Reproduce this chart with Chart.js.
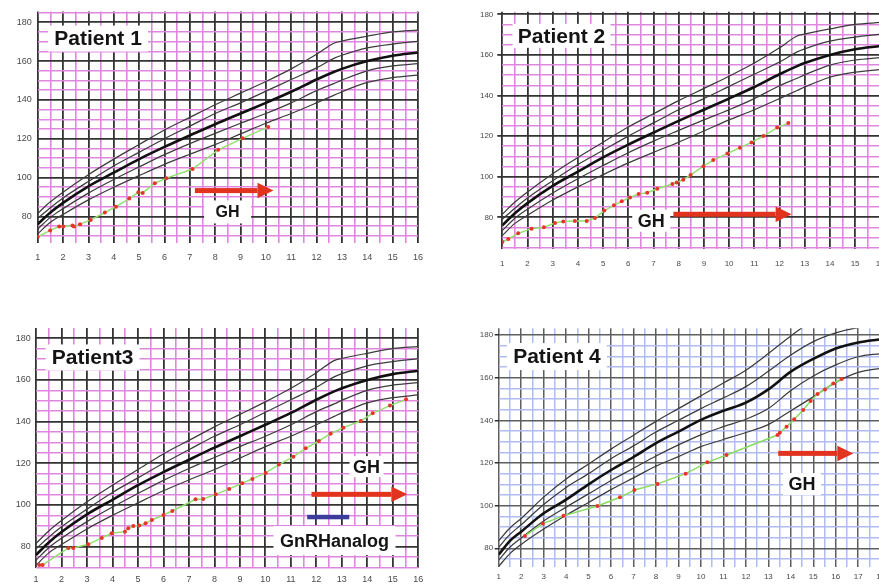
<!DOCTYPE html>
<html><head><meta charset="utf-8">
<script src="https://cdn.jsdelivr.net/npm/chart.js@4.4.1/dist/chart.umd.min.js"></script>
<style>
html,body{margin:0;padding:0;background:#fff;width:879px;height:588px;overflow:hidden;position:relative}
canvas{position:absolute}
</style></head><body>
<canvas id="c1"></canvas><canvas id="c2"></canvas><canvas id="c3"></canvas><canvas id="c4"></canvas>
<script>
// ---- reference growth curves (girls chart, panels 1-3) ----
const girlAges = [1, 1.5, 2, 3, 4, 5, 6, 7, 8, 9, 10, 11, 12, 12.7, 13, 14, 15, 16];
const girlP97 = [81.5, 87.5, 92.5, 101.5, 109.5, 117, 124.5, 131, 137.5, 143.5, 149.5, 156, 163.5, 169.3, 170.3, 172.8, 175, 176];
const girlP90 = [79, 84.5, 89.5, 98, 106, 113, 120, 126.5, 133, 138.5, 144.5, 150.5, 156.5, 161.5, 163, 166.8, 168.8, 170.2];
const girlP50 = [76, 82, 87, 95.5, 102.5, 109.5, 115.8, 121.7, 127.5, 133, 138.5, 144.2, 150.5, 154.5, 156, 160, 162.8, 164.4];
const girlP10 = [73.5, 79.5, 84, 92, 99, 105.5, 111.8, 117.5, 122.8, 128, 133, 138.5, 144.8, 148.5, 150.2, 155, 157.5, 158.7];
const girlP3  = [71, 77, 81, 88.5, 95, 101, 106.8, 112, 117, 122.5, 128, 133, 138.5, 142.5, 144.2, 149, 151.5, 152.8];

// ---- reference growth curves (boys chart, panel 4) ----
const boyAges = [1, 1.5, 2, 3, 4, 5, 6, 7, 8, 9, 10, 11, 12, 13, 14, 15, 16, 17, 18];
const boyP97 = [83.5, 89.5, 94, 104, 112.5, 119.5, 126.5, 133, 139.5, 145.5, 151.5, 157.5, 163.5, 171.3, 179.5, 187, 192, 195, 196];
const boyP90 = [80.5, 86.5, 91, 100.5, 108.5, 115, 122, 128, 134.5, 140, 145.5, 150.5, 155.8, 163, 170.6, 176.9, 181, 183.5, 184.5];
const boyP50 = [77, 83.5, 87.8, 96.4, 102.8, 110, 116.7, 122.8, 129.3, 134.7, 140.2, 144.5, 148.3, 154.5, 162.8, 168.8, 173.7, 176.5, 178];
const boyP10 = [74.5, 80.5, 84.8, 92.8, 99.3, 105.5, 111.8, 117.5, 123.3, 128.5, 133.2, 137, 140.5, 145.5, 154, 160.8, 166, 169.8, 171.3];
const boyP3  = [71.5, 77.5, 81.8, 89, 95.5, 101.5, 107.5, 113, 118.5, 123, 127.7, 131, 134.3, 138, 144.5, 151, 157.8, 162.5, 164.4];

// ---- patient measurements (age in years, height in cm) ----
const p1Age = [1.0, 1.49, 1.85, 2.01, 2.37, 2.43, 2.67, 3.09, 3.65, 4.09, 4.61, 4.97, 5.14, 5.62, 6.08, 7.11, 8.12, 9.08, 10.09];
const p1Height = [69.4, 72.8, 74.8, 74.8, 75.3, 74.8, 76.0, 78.2, 82.0, 85.0, 89.2, 92.4, 92.1, 97.1, 99.7, 104.4, 114.3, 120.2, 126.1];

const p2Age = [1.0, 1.24, 1.63, 2.16, 2.65, 3.09, 3.42, 3.88, 4.35, 4.68, 5.05, 5.43, 5.74, 6.07, 6.41, 6.75, 7.15, 7.75, 7.92, 8.18, 8.47, 8.98, 9.37, 9.93, 10.43, 10.89, 11.36, 11.91, 12.35];
const p2Height = [67.8, 69.3, 72.1, 74.4, 75.1, 77.2, 77.9, 78.2, 78.2, 79.7, 83.3, 85.9, 87.9, 89.8, 91.5, 92.1, 94.1, 96.4, 97.2, 98.5, 100.8, 105.2, 108.2, 111.4, 114.3, 116.9, 120.0, 124.2, 126.4];

const p3Age = [1.13, 1.26, 2.27, 2.46, 3.05, 3.58, 3.97, 4.49, 4.62, 4.82, 5.05, 5.30, 5.55, 6.0, 6.35, 7.26, 7.56, 8.05, 8.58, 9.09, 9.49, 10.01, 10.53, 11.1, 11.58, 12.1, 12.56, 13.06, 13.74, 14.21, 14.89, 15.52];
const p3Height = [71.2, 71.2, 79.4, 79.4, 81.1, 84.2, 86.4, 87.2, 88.8, 89.9, 90.1, 91.2, 92.8, 95.2, 97.1, 102.7, 102.9, 105.1, 107.7, 110.4, 112.5, 115.4, 119.4, 123.2, 127.2, 130.7, 134.2, 137.1, 140.3, 144.0, 147.7, 150.7];

const p4Age = [2.17, 2.96, 3.88, 5.39, 6.40, 7.04, 8.07, 9.32, 10.28, 11.14, 13.41, 13.51, 13.81, 14.15, 14.55, 14.88, 15.19, 15.52, 15.89, 16.26];
const p4Height = [85.8, 91.6, 95.2, 99.8, 103.9, 107.3, 110.2, 115.0, 120.3, 123.75, 133.1, 134.2, 137.0, 140.5, 144.8, 149.1, 152.3, 154.5, 157.3, 159.4];

// ---- tick labels ----
const xLabels16 = [1, 2, 3, 4, 5, 6, 7, 8, 9, 10, 11, 12, 13, 14, 15, 16];
const xLabels18 = [1, 2, 3, 4, 5, 6, 7, 8, 9, 10, 11, 12, 13, 14, 15, 16, 17, 18];
const yLabels = [80, 100, 120, 140, 160, 180];

// ---- treatment markers (age from, age to, height level) ----
const ghArrow1 = [7.2, 10.3, 93.3];
const ghArrow2 = [7.79, 12.48, 81.5];
const ghArrow3 = [11.81, 15.57, 105.1];
const gnrhBar3 = [11.64, 13.29, 94.2];
const ghArrow4 = [13.44, 16.78, 124.5];

const FONT = "'Liberation Sans', Arial, Helvetica, sans-serif";

function pts(xs, ys) { return xs.map((x, i) => ({ x: x, y: ys[i] })); }

function curveSets(ages, arr) {
  return arr.map((ys, i) => ({
    data: pts(ages, ys),
    borderColor: i === 2 ? '#111111' : '#3c3c3c',
    borderWidth: i === 2 ? 2.6 : 1.25,
    pointRadius: 0,
    fill: false,
    cubicInterpolationMode: 'monotone'
  }));
}

const notePlugin = {
  id: 'notes',
  afterDatasetsDraw(chart) {
    const ctx = chart.ctx, xs = chart.scales.x, ys = chart.scales.y;
    const n = chart.options.notes || {};
    ctx.save();
    (n.bars || []).forEach(b => {
      const a = xs.getPixelForValue(b.r[0]), c = xs.getPixelForValue(b.r[1]), y = ys.getPixelForValue(b.r[2]);
      ctx.fillStyle = b.color;
      ctx.fillRect(a, y - b.t / 2, c - a, b.t);
    });
    (n.arrows || []).forEach(ar => {
      const a = xs.getPixelForValue(ar.r[0]), c = xs.getPixelForValue(ar.r[1]), y = ys.getPixelForValue(ar.r[2]);
      const hl = 16, hh = 15.5, t = 5;
      ctx.fillStyle = '#e2331f';
      ctx.fillRect(a, y - t / 2, c - hl - a, t);
      ctx.beginPath();
      ctx.moveTo(c - hl, y - hh / 2);
      ctx.lineTo(c, y);
      ctx.lineTo(c - hl, y + hh / 2);
      ctx.closePath();
      ctx.fill();
    });
    (n.boxes || []).forEach(bx => {
      const cx = xs.getPixelForValue(bx.x), cy = ys.getPixelForValue(bx.y);
      ctx.fillStyle = '#ffffff';
      ctx.fillRect(cx - bx.w / 2, cy - bx.h / 2, bx.w, bx.h);
      ctx.fillStyle = '#141414';
      ctx.font = 'bold ' + bx.size + 'px ' + FONT;
      ctx.textAlign = 'center';
      ctx.textBaseline = 'middle';
      ctx.fillText(bx.text, cx, cy + 1);
    });
    ctx.restore();
  }
};

function range(a, b, s) { const r = []; for (let v = a; v <= b + 1e-9; v += s) r.push(Math.round(v * 100) / 100); return r; }

function makePanel(id, cfg) {
  const cv = document.getElementById(id);
  const [cx, cy, cw, ch] = cfg.canvas;
  cv.style.left = cx + 'px'; cv.style.top = cy + 'px';
  cv.width = cw; cv.height = ch;
  cv.style.width = cw + 'px'; cv.style.height = ch + 'px';
  const [L, T, R, B] = cfg.area;
  const major = cfg.major, minor = cfg.minor, lw = cfg.lw;
  const xGrid = range(cfg.x[0], cfg.x[1], 0.5);
  const yGrid = range(Math.ceil(cfg.y[0] / 5) * 5, Math.floor(cfg.y[1] / 5) * 5, 5);
  const datasets = [{
    data: pts(cfg.pAge, cfg.pHeight),
    borderColor: cfg.green,
    borderWidth: 1.5,
    pointRadius: 2,
    pointBackgroundColor: '#e8342a',
    pointBorderWidth: 0,
    fill: false,
    tension: 0
  }].concat(curveSets(cfg.ages, cfg.curves));
  const yW = L - cx, xH = cy + ch - B;
  new Chart(cv, {
    type: 'line',
    data: { datasets: datasets },
    options: {
      responsive: false, animation: false, events: [],
      layout: { padding: { left: 0, top: T - cy, right: cx + cw - R, bottom: 0 } },
      plugins: { legend: { display: false }, tooltip: { enabled: false } },
      notes: cfg.notes,
      scales: {
        x: {
          type: 'linear', min: cfg.x[0], max: cfg.x[1],
          afterFit: s => { s.height = xH; },
          afterBuildTicks: s => { s.ticks = xGrid.map(v => ({ value: v })); },
          border: { display: false },
          grid: {
            drawTicks: false,
            color: c => (Number.isInteger(c.tick.value) ? major : minor),
            lineWidth: c => (Number.isInteger(c.tick.value) ? lw[0] : lw[1])
          },
          ticks: {
            autoSkip: false, maxRotation: 0, minRotation: 0, padding: cfg.xPad,
            color: '#4a4a4a', font: { family: FONT, size: cfg.xFont },
            callback: v => (cfg.xLabels.includes(v) ? String(v) : '')
          }
        },
        y: {
          type: 'linear', min: cfg.y[0], max: cfg.y[1],
          afterFit: s => { s.width = yW; },
          afterBuildTicks: s => { s.ticks = yGrid.map(v => ({ value: v })); },
          border: { display: false },
          grid: {
            drawTicks: cfg.yTick > 0, tickLength: cfg.yTick,
            tickColor: c => (yLabels.includes(c.tick.value) ? '#333' : 'rgba(0,0,0,0)'),
            color: c => (c.tick.value % 20 === 0 ? major : minor),
            lineWidth: c => (c.tick.value % 20 === 0 ? lw[0] : lw[1])
          },
          ticks: {
            autoSkip: false, padding: cfg.yPad,
            color: '#4a4a4a', font: { family: FONT, size: cfg.yFont },
            callback: v => (yLabels.includes(v) ? String(v) : '')
          }
        }
      }
    },
    plugins: [notePlugin]
  });
}

const girlCurves = [girlP97, girlP90, girlP50, girlP10, girlP3];
const boyCurves = [boyP97, boyP90, boyP50, boyP10, boyP3];
const PINK = '#df86df', BLACK = '#333333';

makePanel('c1', {
  canvas: [0, 0, 440, 292], area: [37.7, 8, 418, 243],
  x: [1, 16], y: [66.3, 185.6], xLabels: xLabels16,
  ages: girlAges, curves: girlCurves, pAge: p1Age, pHeight: p1Height,
  major: BLACK, minor: PINK, lw: [1.8, 1.6], green: '#92e070',
  xPad: 9.6, xFont: 9, yPad: 6, yFont: 9, yTick: 0,
  notes: {
    arrows: [{ r: ghArrow1 }],
    boxes: [
      { text: 'Patient 1', x: 3.38, y: 171.6, w: 100, h: 26, size: 21 },
      { text: 'GH', x: 8.49, y: 82.3, w: 47, h: 23, size: 16 }
    ]
  }
});

makePanel('c2', {
  canvas: [440, 0, 460, 292], area: [502.3, 11.7, 880.3, 249],
  x: [1, 16], y: [64.38, 181.3], xLabels: xLabels16,
  ages: girlAges, curves: girlCurves, pAge: p2Age, pHeight: p2Height,
  major: BLACK, minor: PINK, lw: [1.8, 1.6], green: '#92e070',
  xPad: 10.2, xFont: 8, yPad: 4, yFont: 8, yTick: 5,
  notes: {
    arrows: [{ r: ghArrow2 }],
    boxes: [
      { text: 'Patient 2', x: 3.35, y: 169.4, w: 98, h: 24, size: 21 },
      { text: 'GH', x: 6.91, y: 78.3, w: 38, h: 22, size: 18 }
    ]
  }
});

makePanel('c3', {
  canvas: [0, 296, 440, 292], area: [36, 328, 418.3, 568.3],
  x: [1, 16], y: [69.6, 184.94], xLabels: xLabels16,
  ages: girlAges, curves: girlCurves, pAge: p3Age, pHeight: p3Height,
  major: BLACK, minor: PINK, lw: [1.8, 1.6], green: '#92e070',
  xPad: 6.3, xFont: 9, yPad: 5.3, yFont: 9, yTick: 0,
  notes: {
    bars: [{ r: gnrhBar3, t: 4.5, color: '#3c3c9c' }],
    arrows: [{ r: ghArrow3 }],
    boxes: [
      { text: 'Patient3', x: 3.22, y: 170.8, w: 94, h: 26, size: 21 },
      { text: 'GH', x: 13.97, y: 118.4, w: 34, h: 21, size: 18 },
      { text: 'GnRHanalog', x: 12.71, y: 82.9, w: 122, h: 29, size: 18 }
    ]
  }
});

makePanel('c4', {
  canvas: [440, 296, 460, 292], area: [498.7, 328.3, 880.7, 566.7],
  x: [1, 18], y: [71.37, 183.14], xLabels: xLabels18,
  ages: boyAges, curves: boyCurves, pAge: p4Age, pHeight: p4Height,
  major: '#5f5f5f', minor: '#b2bcf0', lw: [1.5, 1.5], green: '#88dc62',
  xPad: 5.2, xFont: 8, yPad: 1.5, yFont: 8, yTick: 4,
  notes: {
    arrows: [{ r: ghArrow4 }],
    boxes: [
      { text: 'Patient 4', x: 3.59, y: 169.9, w: 100, h: 27, size: 21 },
      { text: 'GH', x: 14.5, y: 110.1, w: 38, h: 22, size: 18 }
    ]
  }
});
</script>
</body></html>
